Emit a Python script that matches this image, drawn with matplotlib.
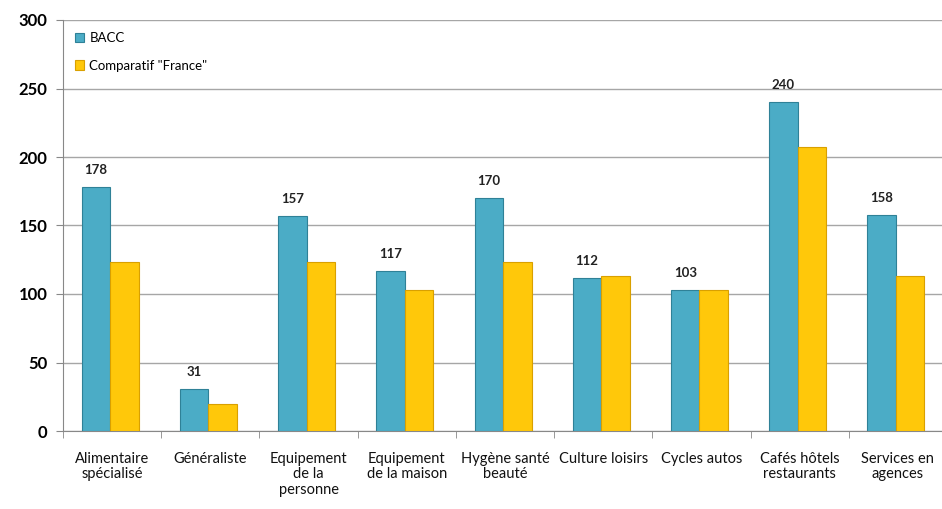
import numpy as np
import matplotlib.pyplot as plt
plt.switch_backend('agg')
plt.rcParams['font.family'] = ['Lato', 'DejaVu Sans']

categories = ["Alimentaire\nspécialisé", "Généraliste", "Equipement\nde la\npersonne",
              "Equipement\nde la maison", "Hygène santé\nbeauté", "Culture loisirs",
              "Cycles autos", "Cafés hôtels\nrestaurants", "Services en\nagences"]
bacc = [178, 31, 157, 117, 170, 112, 103, 240, 158]
france = [123, 20, 123, 103, 123, 113, 103, 207, 113]

fig = plt.figure(figsize=(9.42, 5.09), dpi=100)
ax = fig.add_axes([63 / 942, 1 - 431 / 509, 884 / 942, 411 / 509])

x = np.arange(len(categories))
w = 0.29
ax.bar(x - w / 2 - 0.02, bacc, w, color='#4BACC6', edgecolor='#2F8197', linewidth=0.8,
       label='BACC', zorder=3)
ax.bar(x + w / 2 - 0.02, france, w, color='#FFC80A', edgecolor='#D9A000', linewidth=0.8,
       label='Comparatif "France"', zorder=3)

for xi, v in zip(x, bacc):
    ax.text(xi - w / 2 - 0.02, v + 8, str(v), ha='center', va='bottom',
            fontsize=9.5, fontweight='bold', color='#222222')

ax.set_xlim(-0.5, len(categories) - 0.5)
ax.set_ylim(0, 300)
ax.set_yticks(range(0, 301, 50))
ax.yaxis.grid(True, color='#A6A6A6', linewidth=1, zorder=0)
ax.set_xticks(x)
ax.set_xticklabels(categories, fontsize=10.5, color='#111111', linespacing=1.15)
ax.tick_params(axis='x', length=0, pad=15)
ax.set_xticks(np.arange(-0.5, len(categories), 1), minor=True)
ax.tick_params(axis='x', which='minor', length=5, color='#888888')
ax.tick_params(axis='y', length=5, color='#888888', labelsize=12, pad=6)
for lbl in ax.get_yticklabels():
    lbl.set_fontweight('bold')
for s in ['top', 'right']:
    ax.spines[s].set_visible(False)
for s in ['left', 'bottom']:
    ax.spines[s].set_color('#888888')

ax.legend(loc='upper left', bbox_to_anchor=(0.0, 1.0), frameon=False, fontsize=9.5,
          handlelength=0.7, handleheight=0.7, labelspacing=1.2, handletextpad=0.4)

fig.savefig("out.png", dpi=100)
